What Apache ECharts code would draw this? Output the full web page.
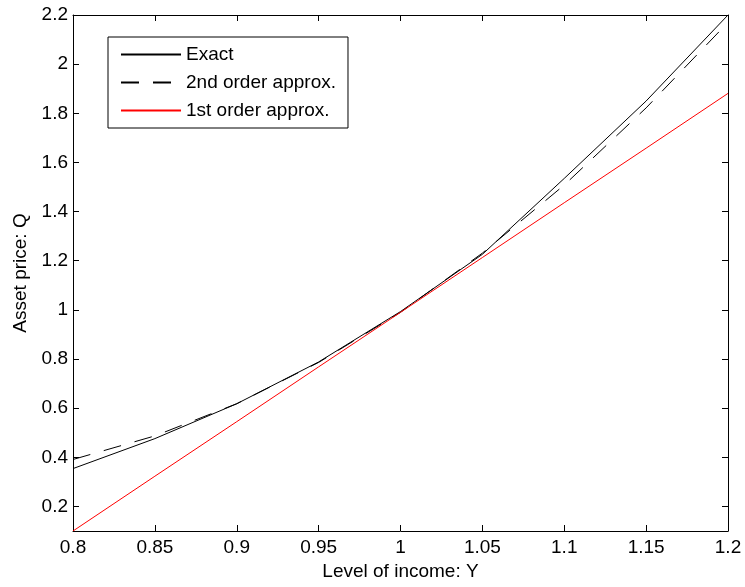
<!DOCTYPE html>
<html>
<head>
<meta charset="utf-8">
<script src="https://cdn.jsdelivr.net/npm/echarts@6/dist/echarts.min.js"></script>
<style>
  html, body { margin: 0; padding: 0; background: #fff; }
  #chart { width: 745px; height: 587px; }
</style>
</head>
<body>
<div id="chart"></div>
<script>
// income levels Y and the three asset price curves
var incomeY = [0.8, 0.85, 0.9, 0.95, 1.0, 1.05, 1.1, 1.15, 1.2];
var exactQ = [0.354, 0.476, 0.618, 0.788, 0.993, 1.226, 1.535, 1.850, 2.200];
var secondOrderQ = [0.391, 0.487, 0.618, 0.786, 0.990, 1.231, 1.508, 1.822, 2.170];
var firstOrderQ = [0.100, 0.323, 0.545, 0.768, 0.990, 1.213, 1.436, 1.658, 1.881];

var xTicks = [0.8, 0.85, 0.9, 0.95, 1, 1.05, 1.1, 1.15, 1.2];
var yTicks = [0.2, 0.4, 0.6, 0.8, 1, 1.2, 1.4, 1.6, 1.8, 2, 2.2];

function pairs(ys) {
  return incomeY.map(function (x, i) { return [x, ys[i]]; });
}

var font = 'Liberation Sans, Arial, Helvetica, sans-serif';
var fs = 19;

function xAxisOf(pos, withLabels) {
  return {
    type: 'value', position: pos, min: 0.8, max: 1.2,
    name: withLabels ? 'Level of income: Y' : '',
    nameLocation: 'middle', nameGap: 31,
    nameTextStyle: { color: '#000', fontSize: fs, fontFamily: font },
    axisLine: { show: true, onZero: false, lineStyle: { color: '#000', width: 1 } },
    axisTick: { show: true, inside: true, length: 6, customValues: xTicks, lineStyle: { color: '#000' } },
    axisLabel: { show: withLabels, customValues: xTicks, margin: 7, color: '#000', fontSize: fs, fontFamily: font },
    splitLine: { show: false }
  };
}

function yAxisOf(pos, withLabels) {
  return {
    type: 'value', position: pos, min: 0.1, max: 2.2,
    name: withLabels ? 'Asset price: Q' : '',
    nameLocation: 'middle', nameGap: 43,
    nameTextStyle: { color: '#000', fontSize: fs, fontFamily: font },
    axisLine: { show: true, onZero: false, lineStyle: { color: '#000', width: 1 } },
    axisTick: { show: true, inside: true, length: 6, customValues: yTicks, lineStyle: { color: '#000' } },
    axisLabel: { show: withLabels, customValues: yTicks, margin: 5, color: '#000', fontSize: fs, fontFamily: font },
    splitLine: { show: false }
  };
}

var chart = echarts.init(document.getElementById('chart'));
chart.setOption({
  animation: false,
  backgroundColor: '#fff',
  grid: { left: 73, right: 17, top: 15, bottom: 56 },
  legend: {
    orient: 'vertical', left: 108, top: 37,
    padding: [8, 12, 8, 12], itemGap: 9, itemWidth: 60, itemHeight: 14,
    backgroundColor: '#fff', borderColor: '#000', borderWidth: 1, borderRadius: 0,
    itemStyle: { opacity: 0 },
    textStyle: { color: '#000', fontSize: fs, fontFamily: font },
    data: ['Exact', '2nd order approx.', '1st order approx.']
  },
  xAxis: [xAxisOf('bottom', true), xAxisOf('top', false)],
  yAxis: [yAxisOf('left', true), yAxisOf('right', false)],
  series: [
    {
      name: 'Exact', type: 'line', symbol: 'none', data: pairs(exactQ),
      lineStyle: { color: '#000', width: 1 }, itemStyle: { color: '#000' }
    },
    {
      name: '2nd order approx.', type: 'line', symbol: 'none', data: pairs(secondOrderQ),
      lineStyle: { color: '#000', width: 1, type: [18, 14] }, itemStyle: { color: '#000' }
    },
    {
      name: '1st order approx.', type: 'line', symbol: 'none', data: pairs(firstOrderQ),
      lineStyle: { color: '#ff0000', width: 1 }, itemStyle: { color: '#ff0000' }
    }
  ]
});
</script>
</body>
</html>
